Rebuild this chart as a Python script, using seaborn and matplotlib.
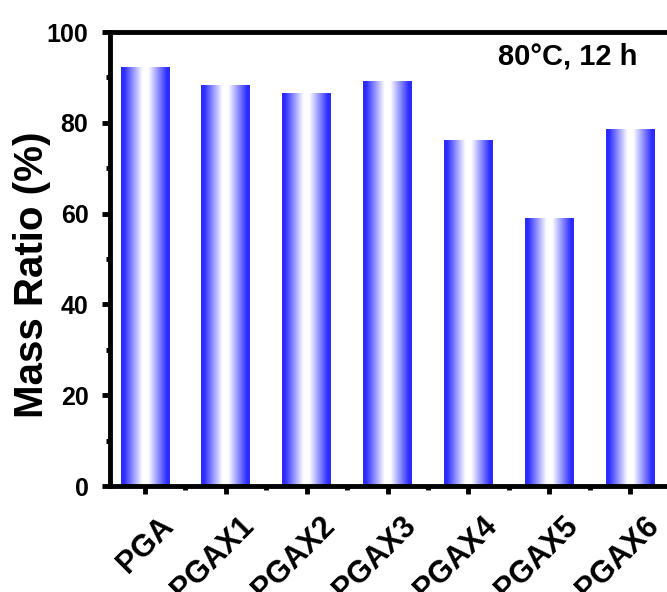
import numpy as np
import pandas as pd
import matplotlib
matplotlib.use("Agg")
import matplotlib.pyplot as plt
import seaborn as sns
from matplotlib.colors import LinearSegmentedColormap
from matplotlib.transforms import ScaledTranslation

categories = ["PGA", "PGAX1", "PGAX2", "PGAX3", "PGAX4", "PGAX5", "PGAX6"]
mass_ratio = [92.2, 88.3, 86.6, 89.2, 76.2, 59.0, 78.6]
annotation = "80°C, 12 h"

sns.set_theme(style="ticks")
plt.rcParams["font.family"] = ["Liberation Sans", "DejaVu Sans"]
plt.rcParams["font.weight"] = "bold"
plt.rcParams["text.color"] = "black"
plt.rcParams["axes.labelcolor"] = "black"
plt.rcParams["xtick.color"] = "black"
plt.rcParams["ytick.color"] = "black"

df = pd.DataFrame({"cat": categories, "val": mass_ratio})

fig = plt.figure(figsize=(6.67, 5.92), dpi=100)
ax = fig.add_axes([110/667, 106/592, 560.7/667, 454/592])

sns.barplot(data=df, x="cat", y="val", color="#3333ff", width=0.6, ax=ax,
            saturation=1, errorbar=None)

blue = (0.17, 0.17, 1.0)
cmap = LinearSegmentedColormap.from_list(
    "bw", [(0, blue), (0.06, blue), (0.44, (1, 1, 1)), (0.56, (1, 1, 1)), (0.94, blue), (1, blue)])
grad = np.linspace(0, 1, 256).reshape(1, -1)
for p in ax.patches:
    x0, y0 = p.get_x(), p.get_y()
    w, h = p.get_width(), p.get_height()
    p.set_facecolor("none")
    p.set_edgecolor("none")
    im = ax.imshow(grad, cmap=cmap, aspect="auto", extent=[x0, x0 + w, y0, y0 + h],
                   interpolation="bilinear", zorder=2)
    im.set_clip_path(p)

ax.set_xlim(-0.43, 6.45)
ax.set_ylim(0, 100)
ax.set_yticks([0, 20, 40, 60, 80, 100])
ax.set_yticks([10, 30, 50, 70, 90], minor=True)
ax.set_xticks(np.arange(len(categories)) + 0.5, minor=True)

for s in ["left", "bottom", "top", "right"]:
    ax.spines[s].set_linewidth(3.5)
    ax.spines[s].set_color("black")

ax.tick_params(axis="both", which="major", direction="out", length=5.5, width=3.5,
               colors="black", labelsize=18)
ax.tick_params(axis="both", which="minor", direction="out", length=3, width=3.5, colors="black")
ax.tick_params(axis="y", which="major", pad=10)
ax.tick_params(axis="x", which="major", pad=20, labelsize=22)

ax.set_xlabel("")
ax.set_ylabel("Mass Ratio (%)", fontsize=29, fontweight="bold", color="black")
ax.yaxis.set_label_coords(-0.139, 0.465)
ax.yaxis.label.set_va("center")

for lbl in ax.get_yticklabels():
    lbl.set_fontweight("bold")
for lbl in ax.get_xticklabels():
    lbl.set_fontweight("bold")
    lbl.set_rotation(45)
    lbl.set_rotation_mode("anchor")
    lbl.set_ha("right")
    lbl.set_va("center")
    lbl.set_transform(lbl.get_transform() + ScaledTranslation(0.24, 0, fig.dpi_scale_trans))

ax.text(0.94, 0.945, annotation, transform=ax.transAxes, ha="right", va="center",
        fontsize=21, fontweight="bold", color="black")

fig.savefig("out.png", dpi=100)
